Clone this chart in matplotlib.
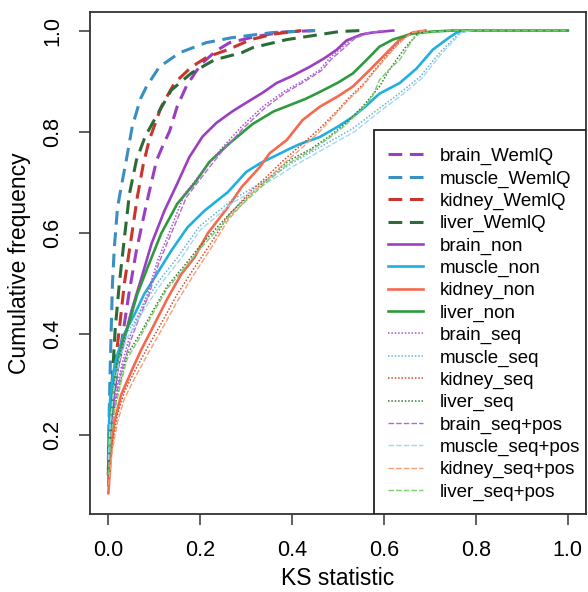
import numpy as np
import matplotlib
matplotlib.use('Agg')
import matplotlib.pyplot as plt
from matplotlib.patches import Rectangle

plt.rcParams['font.family'] = ['Liberation Sans', 'DejaVu Sans']

# ---- curves (KS statistic, cumulative frequency) ----
brain_wemlq_x = [0, 0.002, 0.008, 0.018, 0.03, 0.045, 0.061, 0.083, 0.105, 0.12, 0.133, 0.15, 0.17, 0.19, 0.205, 0.235, 0.264, 0.32, 0.38, 0.45]
brain_wemlq_y = [0.12, 0.18, 0.25, 0.32, 0.39, 0.48, 0.564, 0.657, 0.743, 0.775, 0.80, 0.85, 0.89, 0.918, 0.936, 0.96, 0.976, 0.988, 0.997, 1.0]

muscle_wemlq_x = [0, 0.002, 0.004, 0.006, 0.009, 0.013, 0.02, 0.03, 0.039, 0.052, 0.07, 0.083, 0.111, 0.155, 0.213, 0.27, 0.357, 0.45]
muscle_wemlq_y = [0.15, 0.25, 0.33, 0.40, 0.50, 0.57, 0.65, 0.70, 0.743, 0.81, 0.865, 0.889, 0.928, 0.956, 0.976, 0.986, 0.996, 1.0]

kidney_wemlq_x = [0, 0.003, 0.008, 0.015, 0.024, 0.035, 0.05, 0.063, 0.076, 0.089, 0.115, 0.144, 0.181, 0.216, 0.26, 0.31, 0.36, 0.42]
kidney_wemlq_y = [0.12, 0.2, 0.28, 0.34, 0.41, 0.50, 0.59, 0.67, 0.735, 0.783, 0.849, 0.896, 0.928, 0.948, 0.962, 0.982, 0.993, 1.0]

liver_wemlq_x = [0, 0.003, 0.008, 0.015, 0.024, 0.035, 0.046, 0.061, 0.08, 0.1, 0.137, 0.181, 0.231, 0.29, 0.314, 0.388, 0.46, 0.503, 0.55]
liver_wemlq_y = [0.13, 0.22, 0.30, 0.41, 0.50, 0.59, 0.677, 0.743, 0.79, 0.823, 0.882, 0.916, 0.942, 0.956, 0.966, 0.982, 0.992, 0.998, 1.0]

brain_non_x = [0, 0.003, 0.01, 0.02, 0.035, 0.05, 0.072, 0.094, 0.122, 0.15, 0.176, 0.205, 0.235, 0.27, 0.3, 0.336, 0.366, 0.4, 0.438, 0.47, 0.497, 0.518, 0.55, 0.575, 0.62]
brain_non_y = [0.1, 0.18, 0.27, 0.33, 0.39, 0.444, 0.51, 0.578, 0.643, 0.697, 0.749, 0.79, 0.817, 0.84, 0.857, 0.877, 0.896, 0.91, 0.928, 0.945, 0.962, 0.98, 0.992, 0.996, 1.0]

muscle_non_x = [0, 0.003, 0.01, 0.02, 0.035, 0.057, 0.078, 0.1, 0.137, 0.172, 0.209, 0.26, 0.3, 0.33, 0.388, 0.416, 0.46, 0.5, 0.532, 0.56, 0.59, 0.634, 0.671, 0.706, 0.74, 0.758, 0.78]
muscle_non_y = [0.18, 0.26, 0.32, 0.36, 0.40, 0.438, 0.478, 0.51, 0.564, 0.61, 0.643, 0.68, 0.72, 0.737, 0.763, 0.775, 0.789, 0.81, 0.829, 0.85, 0.875, 0.896, 0.925, 0.962, 0.985, 0.996, 1.0]

kidney_non_x = [0, 0.002, 0.007, 0.013, 0.028, 0.05, 0.07, 0.092, 0.129, 0.159, 0.187, 0.216, 0.26, 0.29, 0.329, 0.351, 0.388, 0.423, 0.46, 0.5, 0.532, 0.569, 0.606, 0.634, 0.662, 0.69]
kidney_non_y = [0.084, 0.11, 0.179, 0.225, 0.279, 0.325, 0.365, 0.404, 0.47, 0.518, 0.55, 0.598, 0.65, 0.69, 0.729, 0.757, 0.783, 0.823, 0.849, 0.87, 0.889, 0.922, 0.956, 0.982, 0.996, 1.0]

liver_non_x = [0, 0.003, 0.01, 0.02, 0.03, 0.046, 0.063, 0.085, 0.115, 0.15, 0.187, 0.22, 0.264, 0.314, 0.36, 0.394, 0.43, 0.466, 0.5, 0.532, 0.56, 0.59, 0.619, 0.662, 0.706, 0.75, 1.0]
liver_non_y = [0.12, 0.2, 0.28, 0.34, 0.38, 0.424, 0.478, 0.53, 0.598, 0.657, 0.697, 0.74, 0.777, 0.815, 0.84, 0.852, 0.865, 0.881, 0.897, 0.915, 0.94, 0.968, 0.982, 0.994, 0.998, 1.0, 1.0]

brain_seq_x = [0, 0.005, 0.015, 0.03, 0.045, 0.063, 0.085, 0.107, 0.137, 0.166, 0.209, 0.242, 0.29, 0.336, 0.38, 0.423, 0.46, 0.481, 0.51, 0.532, 0.56, 0.6]
brain_seq_y = [0.12, 0.2, 0.28, 0.34, 0.39, 0.43, 0.478, 0.544, 0.61, 0.677, 0.725, 0.762, 0.81, 0.849, 0.878, 0.9, 0.922, 0.945, 0.968, 0.985, 0.995, 1.0]

muscle_seq_x = [0, 0.004, 0.012, 0.025, 0.04, 0.057, 0.085, 0.115, 0.15, 0.198, 0.27, 0.342, 0.4, 0.466, 0.532, 0.59, 0.634, 0.678, 0.721, 0.765, 0.79]
muscle_seq_y = [0.15, 0.22, 0.30, 0.36, 0.40, 0.424, 0.47, 0.51, 0.55, 0.612, 0.665, 0.703, 0.738, 0.772, 0.806, 0.846, 0.876, 0.908, 0.956, 0.996, 1.0]

kidney_seq_x = [0, 0.004, 0.009, 0.02, 0.035, 0.057, 0.085, 0.115, 0.15, 0.187, 0.224, 0.26, 0.312, 0.344, 0.38, 0.423, 0.46, 0.497, 0.525, 0.553, 0.58, 0.606, 0.63, 0.649, 0.662, 0.69]
kidney_seq_y = [0.1, 0.14, 0.185, 0.24, 0.285, 0.325, 0.372, 0.42, 0.478, 0.53, 0.58, 0.632, 0.684, 0.71, 0.742, 0.776, 0.806, 0.84, 0.868, 0.892, 0.922, 0.95, 0.974, 0.988, 0.996, 1.0]

liver_seq_x = [0, 0.005, 0.013, 0.028, 0.041, 0.072, 0.1, 0.129, 0.166, 0.198, 0.27, 0.342, 0.394, 0.44, 0.48, 0.515, 0.553, 0.59, 0.61, 0.627, 0.645, 0.656, 0.671, 0.69]
liver_seq_y = [0.12, 0.2, 0.251, 0.311, 0.358, 0.404, 0.45, 0.495, 0.535, 0.572, 0.643, 0.703, 0.743, 0.765, 0.79, 0.815, 0.849, 0.889, 0.92, 0.942, 0.965, 0.976, 0.992, 1.0]

brain_seqpos_x = [0, 0.005, 0.015, 0.03, 0.048, 0.066, 0.088, 0.11, 0.14, 0.17, 0.212, 0.245, 0.293, 0.34, 0.384, 0.427, 0.464, 0.486, 0.514, 0.536, 0.565, 0.6]
brain_seqpos_y = [0.12, 0.19, 0.27, 0.33, 0.385, 0.428, 0.476, 0.54, 0.605, 0.67, 0.72, 0.758, 0.806, 0.846, 0.876, 0.899, 0.921, 0.944, 0.966, 0.984, 0.995, 1.0]

muscle_seqpos_x = [0, 0.004, 0.012, 0.025, 0.04, 0.06, 0.09, 0.12, 0.155, 0.2, 0.272, 0.345, 0.404, 0.47, 0.536, 0.594, 0.638, 0.682, 0.725, 0.768, 0.79]
muscle_seqpos_y = [0.15, 0.22, 0.29, 0.35, 0.39, 0.42, 0.465, 0.505, 0.545, 0.605, 0.66, 0.698, 0.732, 0.766, 0.8, 0.842, 0.872, 0.905, 0.954, 0.996, 1.0]

kidney_seqpos_x = [0, 0.004, 0.009, 0.02, 0.035, 0.057, 0.085, 0.115, 0.15, 0.187, 0.224, 0.26, 0.312, 0.344, 0.38, 0.423, 0.46, 0.497, 0.525, 0.553, 0.58, 0.606, 0.63, 0.649, 0.662, 0.69]
kidney_seqpos_y = [0.1, 0.13, 0.171, 0.225, 0.271, 0.311, 0.358, 0.406, 0.464, 0.518, 0.57, 0.624, 0.677, 0.703, 0.735, 0.769, 0.80, 0.837, 0.865, 0.889, 0.92, 0.948, 0.972, 0.988, 0.996, 1.0]

liver_seqpos_x = [0, 0.005, 0.013, 0.028, 0.041, 0.072, 0.1, 0.129, 0.166, 0.2, 0.27, 0.342, 0.394, 0.44, 0.48, 0.515, 0.553, 0.575, 0.59, 0.61, 0.634, 0.662, 0.68, 0.75, 1.0]
liver_seqpos_y = [0.12, 0.19, 0.245, 0.305, 0.35, 0.398, 0.445, 0.49, 0.53, 0.568, 0.638, 0.698, 0.738, 0.762, 0.787, 0.812, 0.845, 0.87, 0.902, 0.922, 0.942, 0.982, 0.996, 1.0, 1.0]

labels = ['brain_WemlQ', 'muscle_WemlQ', 'kidney_WemlQ', 'liver_WemlQ',
          'brain_non', 'muscle_non', 'kidney_non', 'liver_non',
          'brain_seq', 'muscle_seq', 'kidney_seq', 'liver_seq',
          'brain_seq+pos', 'muscle_seq+pos', 'kidney_seq+pos', 'liver_seq+pos']

series = [(brain_wemlq_x, brain_wemlq_y), (muscle_wemlq_x, muscle_wemlq_y),
          (kidney_wemlq_x, kidney_wemlq_y), (liver_wemlq_x, liver_wemlq_y),
          (brain_non_x, brain_non_y), (muscle_non_x, muscle_non_y),
          (kidney_non_x, kidney_non_y), (liver_non_x, liver_non_y),
          (brain_seq_x, brain_seq_y), (muscle_seq_x, muscle_seq_y),
          (kidney_seq_x, kidney_seq_y), (liver_seq_x, liver_seq_y),
          (brain_seqpos_x, brain_seqpos_y), (muscle_seqpos_x, muscle_seqpos_y),
          (kidney_seqpos_x, kidney_seqpos_y), (liver_seqpos_x, liver_seqpos_y)]

colors = ['#9b3fc2', '#3a8fc2', '#c9352b', '#2b6b36',
          '#9b3fc2', '#1fb0e0', '#f5694f', '#2e9a3e',
          '#a552c8', '#6ab0d8', '#d8462e', '#3a7a3a',
          '#b567d2', '#a2d9f0', '#f4a070', '#7acf6a']

dashed = dict(lw=2.2, dashes=(4.5, 2.5))
solid = dict(lw=1.9, linestyle='-')
dotted = dict(lw=1.1, linestyle=(0, (1, 1.2)))
thin = dict(lw=1.0, linestyle=(0, (4, 1.5)))
styles = [dashed] * 4 + [solid] * 4 + [dotted] * 4 + [thin] * 4

fig = plt.figure(figsize=(5.88, 5.92), dpi=100)
ax = fig.add_axes([0.153, 0.132, 0.844, 0.848])

lines = []
for (xs, ys), lab, c, st in zip(series, labels, colors, styles):
    ln, = ax.plot(xs, ys, color=c, label=lab, **st)
    lines.append(ln)

ax.set_xlim(-0.04, 1.04)
ax.set_ylim(0.043, 1.037)
ax.set_xticks([0, 0.2, 0.4, 0.6, 0.8, 1.0])
ax.set_yticks([0.2, 0.4, 0.6, 0.8, 1.0])
ax.set_xticklabels(['0.0', '0.2', '0.4', '0.6', '0.8', '1.0'])
ax.set_yticklabels(['0.2', '0.4', '0.6', '0.8', '1.0'])
ax.tick_params(direction='out', length=8, width=1.1, color='#333333',
               labelsize=15.5, pad=11)
plt.setp(ax.get_yticklabels(), rotation=90, va='center')
for sp in ax.spines.values():
    sp.set_color('#333333')
    sp.set_linewidth(1.3)

ax.set_xlabel('KS statistic', fontsize=16.5, labelpad=4)
ax.set_ylabel('Cumulative frequency', fontsize=16.5, labelpad=8)

# legend box runs down to the x axis
ax.add_patch(Rectangle((0.573, 0), 0.427, 0.765, transform=ax.transAxes,
                       facecolor='white', edgecolor='#222222', lw=1.3, zorder=4))
leg = ax.legend(handles=lines, loc='upper left', bbox_to_anchor=(0.6, 0.729),
                frameon=False, fontsize=13.5, handlelength=1.9,
                handletextpad=0.9, labelspacing=0.27, borderpad=0,
                borderaxespad=0)
leg.set_zorder(5)

fig.savefig('out.png', dpi=100)
